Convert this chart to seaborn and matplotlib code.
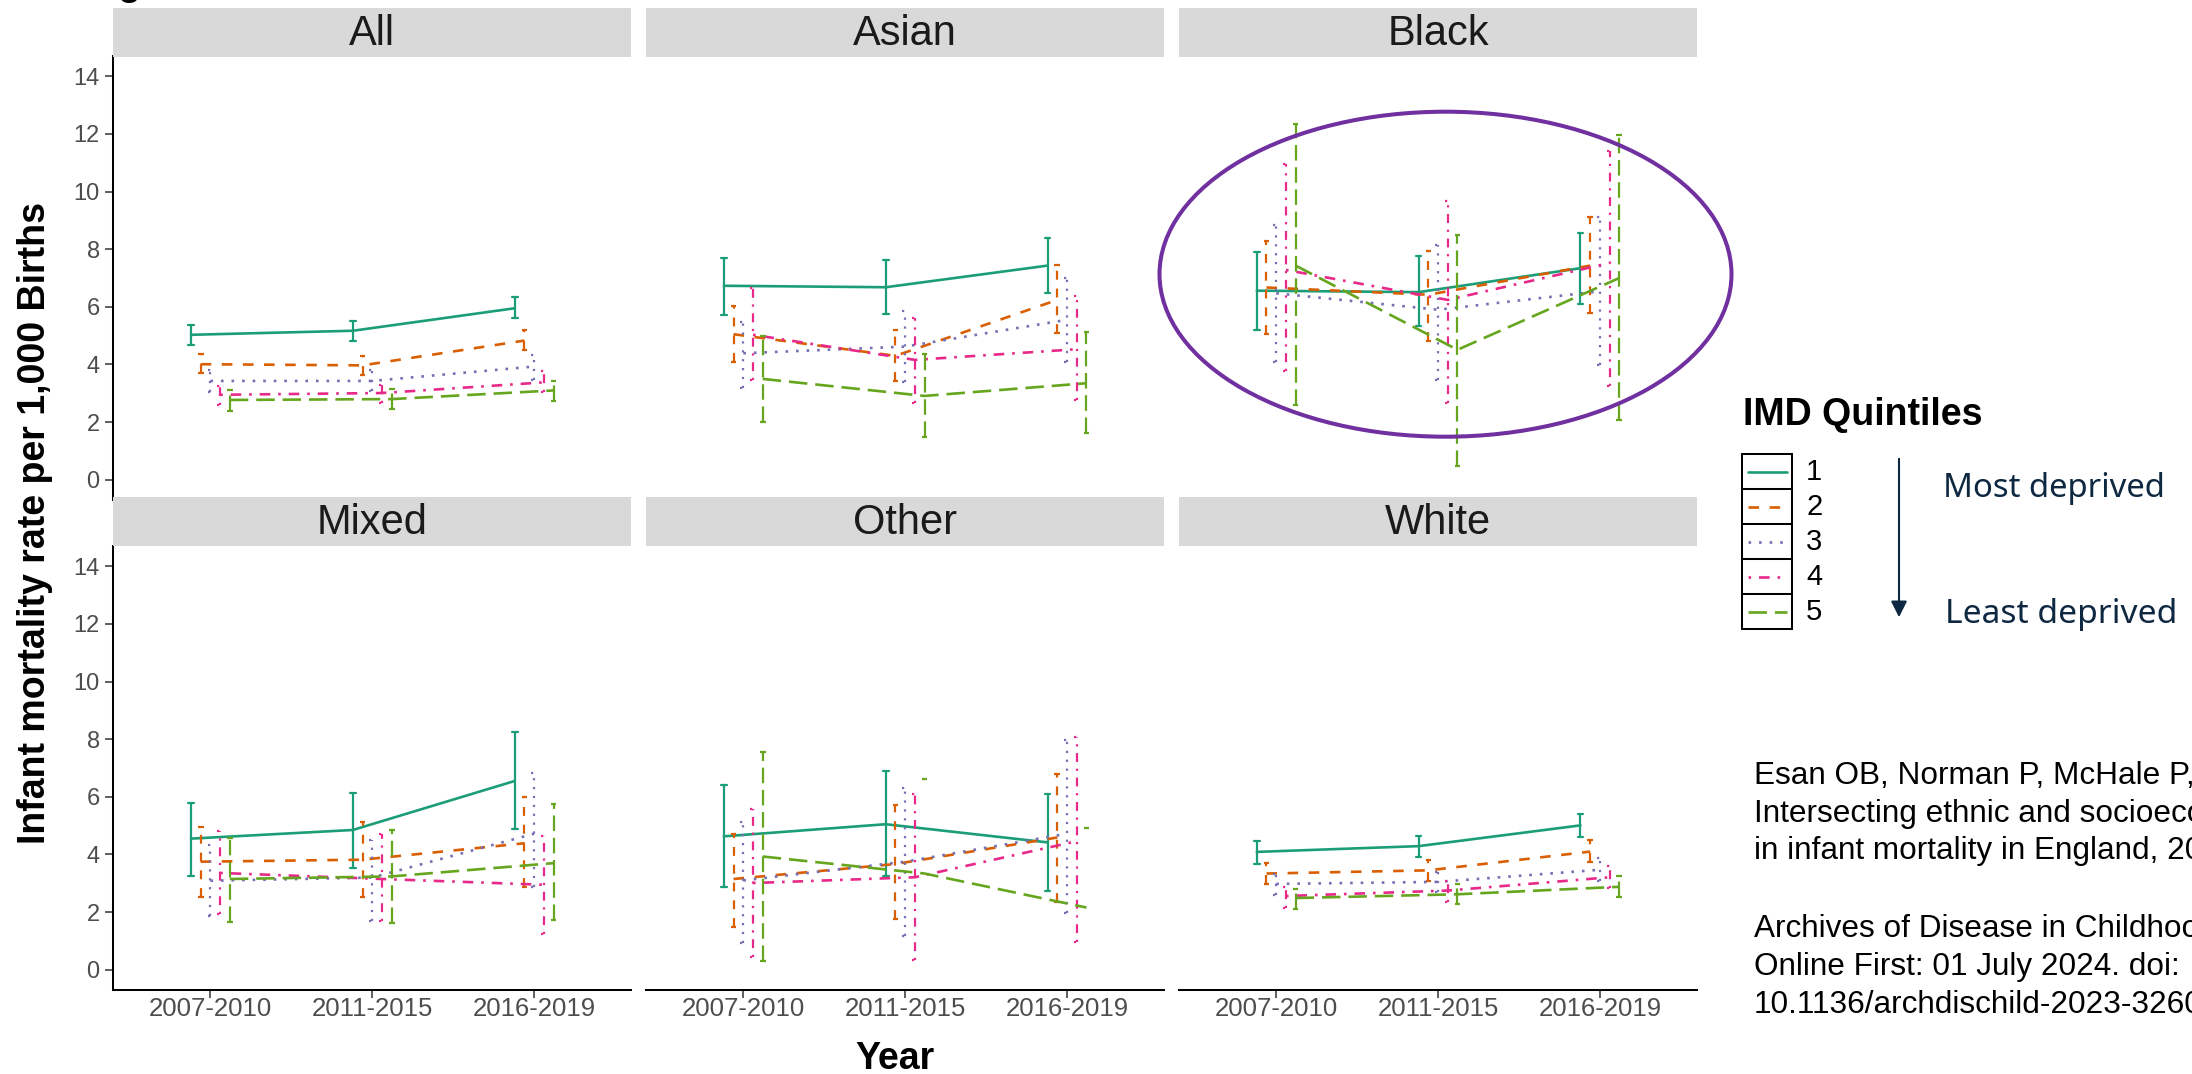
import numpy as np
import pandas as pd
import matplotlib
matplotlib.use("Agg")
import matplotlib.pyplot as plt
from matplotlib.patches import Rectangle, Ellipse, FancyArrowPatch
import seaborn as sns

# ---------------------------------------------------------------------------
# Infant mortality rate per 1,000 births (rate, 95% CI) by ethnic group,
# IMD quintile (rows: quintile 1..5) and period (columns).
# ---------------------------------------------------------------------------
periods = ["2007-2010", "2011-2015", "2016-2019"]
quintiles = ["1", "2", "3", "4", "5"]
groups = ["All", "Asian", "Black", "Mixed", "Other", "White"]

all_rate = [[5.03, 5.17, 5.95], [4.01, 3.97, 4.83], [3.43, 3.43, 3.93], [2.95, 3.01, 3.38], [2.77, 2.80, 3.10]]
all_lower = [[4.68, 4.83, 5.61], [3.70, 3.64, 4.51], [3.06, 3.08, 3.47], [2.60, 2.66, 3.06], [2.40, 2.45, 2.72]]
all_upper = [[5.38, 5.51, 6.34], [4.36, 4.28, 5.20], [3.82, 3.80, 4.34], [3.24, 3.30, 3.76], [3.10, 3.14, 3.44]]

asian_rate = [[6.73, 6.68, 7.43], [5.05, 4.30, 6.24], [4.39, 4.62, 5.55], [5.03, 4.16, 4.53], [3.50, 2.91, 3.35]]
asian_lower = [[5.72, 5.75, 6.48], [4.10, 3.43, 5.09], [3.18, 3.41, 4.10], [3.47, 2.66, 2.77], [2.02, 1.50, 1.62]]
asian_upper = [[7.69, 7.61, 8.38], [6.04, 5.20, 7.46], [5.49, 5.84, 7.00], [6.65, 5.61, 6.36], [4.99, 4.37, 5.11]]

black_rate = [[6.56, 6.51, 7.34], [6.67, 6.42, 7.43], [6.47, 5.90, 6.54], [7.28, 6.24, 7.52], [7.43, 4.51, 7.00]]
black_lower = [[5.18, 5.32, 6.10], [5.05, 4.83, 5.78], [4.10, 3.47, 3.97], [3.76, 2.66, 3.24], [2.58, 0.49, 2.08]]
black_upper = [[7.90, 7.75, 8.56], [8.27, 7.95, 9.13], [8.84, 8.15, 9.13], [10.95, 9.68, 11.39], [12.35, 8.50, 11.97]]

mixed_rate = [[4.55, 4.85, 6.55], [3.75, 3.82, 4.39], [3.09, 3.20, 4.72], [3.36, 3.15, 2.95], [3.15, 3.24, 3.70]]
mixed_lower = [[3.27, 3.52, 4.89], [2.52, 2.52, 2.86], [1.85, 1.70, 2.88], [1.94, 1.70, 1.25], [1.65, 1.64, 1.74]]
mixed_upper = [[5.79, 6.14, 8.26], [4.94, 5.11, 5.99], [4.33, 4.52, 6.82], [4.81, 4.72, 4.65], [4.56, 4.85, 5.74]]

other_rate = [[4.63, 5.05, 4.42], [3.15, 3.67, 4.59], [3.10, 3.75, 4.72], [3.01, 3.21, 4.46], [3.93, 3.34, 2.16]]
other_lower = [[2.86, 3.24, 2.75], [1.47, 1.77, 2.36], [0.92, 1.18, 1.97], [0.43, 0.33, 0.98], [0.30, np.nan, np.nan]]
other_upper = [[6.42, 6.88, 6.10], [4.72, 5.73, 6.78], [5.11, 6.29, 7.96], [5.57, 6.10, 8.09], [7.54, 6.62, 4.92]]

white_rate = [[4.09, 4.29, 5.01], [3.34, 3.45, 4.10], [2.98, 3.05, 3.47], [2.56, 2.75, 3.21], [2.49, 2.62, 2.88]]
white_lower = [[3.67, 3.91, 4.59], [2.98, 3.08, 3.74], [2.60, 2.69, 3.08], [2.16, 2.36, 2.84], [2.12, 2.29, 2.52]]
white_upper = [[4.46, 4.65, 5.41], [3.70, 3.80, 4.52], [3.34, 3.41, 3.87], [2.88, 3.08, 3.60], [2.82, 2.98, 3.24]]

rate_by_group = dict(zip(groups, [all_rate, asian_rate, black_rate, mixed_rate, other_rate, white_rate]))
lower_by_group = dict(zip(groups, [all_lower, asian_lower, black_lower, mixed_lower, other_lower, white_lower]))
upper_by_group = dict(zip(groups, [all_upper, asian_upper, black_upper, mixed_upper, other_upper, white_upper]))

# Long table: for every (group, quintile, period) three rows in the order
# rate, upper, lower.  The estimator picks the rate and the error-bar
# function returns (lower, upper).
rows = []
for g in groups:
    for qi, q in enumerate(quintiles):
        for pi, p in enumerate(periods):
            for stat, src in (("rate", rate_by_group), ("upper", upper_by_group), ("lower", lower_by_group)):
                rows.append({"group": g, "quintile": q, "period": p,
                             "stat": stat, "value": src[g][qi][pi]})
df = pd.DataFrame(rows)


def point_estimate(v):
    return v.iloc[0]


def interval(v):
    lower = v.iloc[2] if len(v) > 2 else np.nan
    return lower, v.iloc[1]


# ---------------------------------------------------------------------------
# Styling
# ---------------------------------------------------------------------------
sns.set_theme(style="white")
plt.rcParams["font.family"] = ["Liberation Sans", "DejaVu Sans"]

colors = ["#1B9E77", "#D95F02", "#7570B3", "#E7298A", "#66A61E"]
styles = ["-", (0, (4, 4)), (0, (1, 3)), (0, (1, 3, 4, 3)), (0, (7, 3))]
palette = dict(zip(quintiles, colors))

W, H = 2192, 1074
fig = plt.figure(figsize=(W / 100, H / 100), dpi=100)
fig.patch.set_facecolor("white")


def px_axes(left, top, width, height):
    return fig.add_axes([left / W, 1 - (top + height) / H, width / W, height / H])


col_left = [113.3, 646.2, 1179.1]
col_w = 517.9
panel_top = [56, 546]
panel_h = 444
strip_top = [8, 497]

TICK_GREY = "#4D4D4D"

for i, g in enumerate(groups):
    r, c = divmod(i, 3)
    ax = px_axes(col_left[c], panel_top[r], col_w, panel_h)
    sub = df[df["group"] == g]
    for q, ls in zip(quintiles, styles):
        sns.pointplot(
            data=sub[sub["quintile"] == q], x="period", y="value",
            hue="quintile", order=periods, hue_order=quintiles, palette=palette,
            estimator=point_estimate, errorbar=interval,
            dodge=0.24, markers="", linestyles=ls, linewidth=1.9,
            capsize=0.035, err_kws={"linewidth": 1.6, "linestyle": ls},
            legend=False, ax=ax,
        )
    ax.set_xlim(-0.6, 2.6)
    ax.set_ylim(-0.7, 14.7)
    ax.set_yticks(range(0, 15, 2))
    ax.set_xlabel("")
    ax.set_ylabel("")
    ax.set_facecolor("white")
    for side in ("top", "right"):
        ax.spines[side].set_visible(False)
    ax.spines["left"].set_visible(c == 0)
    ax.spines["bottom"].set_visible(r == 1)
    for side in ("left", "bottom"):
        ax.spines[side].set_linewidth(1.45)
        ax.spines[side].set_color("black")
    ax.tick_params(axis="y", length=5.8, width=1.1, color="#333333",
                   labelsize=17, labelcolor=TICK_GREY, pad=4,
                   left=(c == 0), labelleft=(c == 0))
    ax.tick_params(axis="x", length=5.8, width=1.1, color="#333333",
                   labelsize=18.5, labelcolor=TICK_GREY, pad=-1,
                   bottom=(r == 1), labelbottom=(r == 1))

    strip = px_axes(col_left[c], strip_top[r], col_w, 48.5)
    strip.set_facecolor("#D9D9D9")
    strip.set_xticks([])
    strip.set_yticks([])
    for s in strip.spines.values():
        s.set_visible(False)
    strip.text(0.5, 0.47, g, ha="center", va="center", fontsize=30,
               color="#1A1A1A", transform=strip.transAxes)

# ---------------------------------------------------------------------------
# Overlay in pixel coordinates: titles, highlight, legend, reference
# ---------------------------------------------------------------------------
ov = fig.add_axes([0, 0, 1, 1])
ov.set_xlim(0, W)
ov.set_ylim(H, 0)
ov.axis("off")

# figure heading sits above the top edge of the canvas
ov.text(85, -5, "Figure", ha="left", va="baseline",
        fontsize=27, fontweight="bold", color="black")

ov.text(45, 523, "Infant mortality rate per 1,000 Births", rotation=90,
        rotation_mode="anchor", ha="center", va="baseline",
        fontsize=27, fontweight="bold", color="black")
ov.text(895, 1069, "Year", ha="center", va="baseline",
        fontsize=27, fontweight="bold", color="black")

ov.add_patch(Ellipse((1445.5, 274.2), 572, 325, fill=False,
                     edgecolor="#7030A0", linewidth=2.9))

# Legend for IMD quintiles
ov.text(1743, 425, "IMD Quintiles", ha="left", va="baseline",
        fontsize=27, fontweight="bold", color="black")
key_top, key_h = 454.0, 35.06
for k, (q, col, ls) in enumerate(zip(quintiles, colors, styles)):
    y0 = key_top + k * key_h
    ov.add_patch(Rectangle((1742.3, y0), 49.7, key_h, fill=False,
                           edgecolor="black", linewidth=1.45))
    ov.plot([1748, 1787], [y0 + key_h / 2, y0 + key_h / 2], color=col,
            linestyle=ls, linewidth=1.9)
    ov.text(1806, y0 + key_h / 2, q, ha="left", va="center",
            fontsize=21, color="black")

NAVY = "#0E2841"
ov.add_patch(FancyArrowPatch((1899, 456), (1899, 620), arrowstyle="-|>",
                             mutation_scale=24, linewidth=1.5, color=NAVY))
ov.text(1943, 497, "Most deprived", ha="left", va="baseline",
        fontsize=23.7, color=NAVY, family=["Noto Sans", "DejaVu Sans"])
ov.text(1945, 623, "Least deprived", ha="left", va="baseline",
        fontsize=24.2, color=NAVY, family=["Noto Sans", "DejaVu Sans"])

citation = [
    (784, "Esan OB, Norman P, McHale P, et al."),
    (821.7, "Intersecting ethnic and socioeconomic inequalities"),
    (859.3, "in infant mortality in England, 2007-2019."),
    (936.7, "Archives of Disease in Childhood"),
    (975, "Online First: 01 July 2024. doi:"),
    (1013.3, "10.1136/archdischild-2023-3260"),
]
for yb, line in citation:
    ov.text(1754, yb, line, ha="left", va="baseline", fontsize=22.7, color="black")

fig.savefig("out.png", dpi=100)
